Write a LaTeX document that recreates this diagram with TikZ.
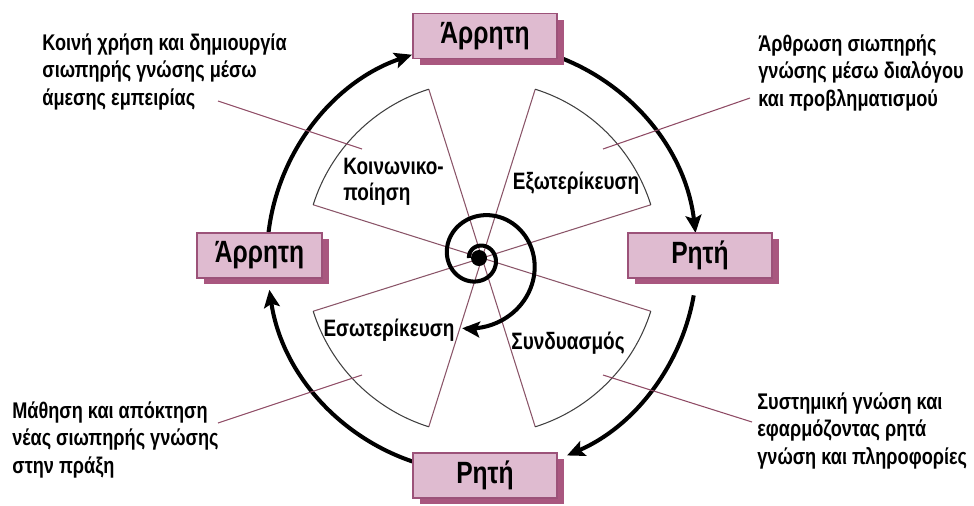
\documentclass[tikz,border=0pt]{standalone}
\usepackage{fontspec}
\setmainfont{Liberation Sans}[FakeStretch=0.8]
\usepackage{tikz}
\usetikzlibrary{arrows.meta,shadows}
\definecolor{boxface}{HTML}{DFBBD0}
\definecolor{boxedge}{HTML}{9C5279}
\definecolor{boxshade}{HTML}{A9577F}
\definecolor{leader}{HTML}{8E4A64}
\definecolor{wedgeline}{HTML}{8A5468}

\begin{document}
\begin{tikzpicture}[x=0.02cm, y=0.02cm,
		cycle/.style={line width=2.3pt, -{Stealth[length=10pt,width=9pt,inset=2pt]}},
		mode/.style={draw=boxedge, line width=0.6pt, fill=boxface, minimum height=0.9cm, minimum width=2.88cm, font=\bfseries\fontsize{17.5}{20}\selectfont, drop shadow={shadow xshift=0.14cm, shadow yshift=-0.12cm, fill=boxshade, opacity=1}},
		note/.style={align=left, anchor=north west, inner sep=0pt, font=\bfseries\fontsize{12.9}{15.9}\selectfont},
		sector/.style={inner sep=0pt, font=\bfseries\fontsize{13.5}{14.5}\selectfont},
		side/.style={draw=wedgeline, line width=0.6pt},
		rim/.style={draw=black!75, line width=0.6pt},
		pointer/.style={draw=leader, line width=0.6pt}]
		\useasboundingbox (0,0) rectangle (974,-505);
		\coordinate (C) at (482,-258);
		\coordinate (S) at (479,-258);

		\foreach \m in {45,135,225,315}{
			\draw[side] (C) -- ++(\m-27.5:177);
			\draw[side] (C) -- ++(\m+27.5:177);
			\draw[rim] (C) ++(\m-27.5:177) arc (\m-27.5:\m+27.5:177);
		}

		\node[sector, align=left, anchor=west] (social) at (343,-182) {Κοινωνικο-\\ποίηση};
		\node[sector] (extern) at (576,-183) {Εξωτερίκευση};
		\node[sector] (intern) at (389,-330) {Εσωτερίκευση};
		\node[sector] (combine) at (568,-343) {Συνδυασμός};

		\draw[line width=2.3pt, -{Stealth[length=10pt,width=9pt,inset=2pt]}] plot[domain=0:7.15, samples=160, smooth] ({479+(10+1.2*\x+1.05*\x*\x)*cos(180-90*\x)}, {-258+(10+1.2*\x+1.05*\x*\x)*sin(180-90*\x)});
		\fill (S) circle (8);

		\draw[cycle] (C) ++(173.3:215) arc (173.3:109:215);
		\draw[cycle] (C) ++(80:215) arc (80:6.7:215);
		\draw[cycle] (C) ++(-10:215) arc (-10:-66.7:215);
		\draw[cycle] (C) ++(-100:215) arc (-100:-171.5:215);

		\node[mode] (tacitTop) at (485,-36) {Άρρητη};
		\node[mode, minimum width=2.5cm] (tacitLeft) at (259.5,-255.5) {Άρρητη};
		\node[mode] (explicitRight) at (700,-255.5) {Ρητή};
		\node[mode] (explicitBottom) at (485,-475.5) {Ρητή};

		\node[note] (shareNote) at (42,-33) {Κοινή χρήση και δημιουργία\\σιωπηρής γνώσης μέσω\\άμεσης εμπειρίας};
		\node[note] (dialogNote) at (758,-34) {Άρθρωση σιωπηρής\\γνώσης μέσω διαλόγου\\και προβληματισμού};
		\node[note] (learnNote) at (12,-401) {Μάθηση και απόκτηση\\νέας σιωπηρής γνώσης\\στην πράξη};
		\node[note] (systemNote) at (757,-392) {Συστημική γνώση και\\εφαρμόζοντας ρητά\\γνώση και πληροφορίες};

		\coordinate (shareA) at (218,-101);
		\coordinate (shareB) at (362,-149);
		\coordinate (dialogA) at (750,-98);
		\coordinate (dialogB) at (603,-149);
		\coordinate (learnA) at (218,-423);
		\coordinate (learnB) at (362,-375);
		\coordinate (systemA) at (752,-422);
		\coordinate (systemB) at (603,-375);
		\draw[pointer] (shareA) -- (shareB);
		\draw[pointer] (dialogA) -- (dialogB);
		\draw[pointer] (learnA) -- (learnB);
		\draw[pointer] (systemA) -- (systemB);
	\end{tikzpicture}
\end{document}
